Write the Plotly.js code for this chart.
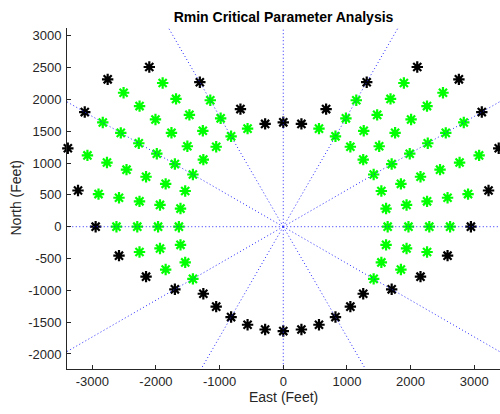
<!DOCTYPE html>
<html>
<head>
<meta charset="utf-8">
<script src="https://cdn.plot.ly/plotly-3.0.1.min.js"></script>
<style>html,body{margin:0;padding:0;background:#fff;}#chart{width:500px;height:414px;}</style>
</head>
<body>
<div id="chart"></div>
<script>
// Outer boundary points (black asterisks), East / North in feet
const blackX = [0, -285, -673, -1311, -2105, -2759, -3119, -3385, -3225, -2948, -2581, -2156, -1703, -1256, -1054, -820, -561, -285, 0,
                285, 673, 1311, 2105, 2759, 3119, 3385, 3225, 2948, 2581, 2156, 1703, 1256, 1054, 820, 561, 285];
const blackY = [1640, 1615, 1848, 2270, 2509, 2315, 1801, 1232, 569, 0, -455, -785, -984, -1054, -1256, -1420, -1541, -1615, -1640,
                1615, 1848, 2270, 2509, 2315, 1801, 1232, 569, 0, -455, -785, -984, -1054, -1256, -1420, -1541, -1615];

// Interior points (green asterisks)
const greenX = [
  -561,
  -820, -984, -1147,
  -1054, -1264, -1475, -1685, -1895,
  -1256, -1507, -1757, -2008, -2258, -2509,
  -1420, -1703, -1987, -2270, -2553, -2836,
  -1541, -1848, -2156, -2463, -2770, -3077,
  -1615, -1937, -2259, -2581, -2903,
  -1640, -1967, -2294, -2621,
  -1615, -1937, -2259,
  -1541, -1848,
  -1420,
  561,
  820, 984, 1147,
  1054, 1264, 1475, 1685, 1895,
  1256, 1507, 1757, 2008, 2258, 2509,
  1420, 1703, 1987, 2270, 2553, 2836,
  1541, 1848, 2156, 2463, 2770, 3077,
  1615, 1937, 2259, 2581, 2903,
  1640, 1967, 2294, 2621,
  1615, 1937, 2259,
  1541, 1848,
  1420
];
const greenY = [
  1541,
  1420, 1703, 1987,
  1256, 1507, 1757, 2008, 2258,
  1054, 1264, 1475, 1685, 1895, 2105,
  820, 984, 1147, 1311, 1474, 1638,
  561, 673, 785, 896, 1008, 1120,
  285, 342, 398, 455, 512,
  0, 0, 0, 0,
  -285, -342, -398,
  -561, -673,
  -820,
  1541,
  1420, 1703, 1987,
  1256, 1507, 1757, 2008, 2258,
  1054, 1264, 1475, 1685, 1895, 2105,
  820, 984, 1147, 1311, 1474, 1638,
  561, 673, 785, 896, 1008, 1120,
  285, 342, 398, 455, 512,
  0, 0, 0, 0,
  -285, -342, -398,
  -561, -673,
  -820
];

// Radial reference rays (degrees) and their length (feet)
const rayAngles = [0, 30, 60, 90, 120, 150, 180, 210, 240, 270, 300, 330];
const rayLength = 6000;

const xTicks = [-3000, -2000, -1000, 0, 1000, 2000, 3000];
const yTicks = [-2000, -1500, -1000, -500, 0, 500, 1000, 1500, 2000, 2500, 3000];

const rayX = [], rayY = [];
rayAngles.forEach(a => {
  const t = a * Math.PI / 180;
  rayX.push(0, rayLength * Math.cos(t), null);
  rayY.push(0, rayLength * Math.sin(t), null);
});

const axisColor = 'rgb(38,38,38)';
const fontFam = '"Liberation Sans", Arial, Helvetica, sans-serif';

const traces = [
  {
    x: greenX, y: greenY, type: 'scatter', mode: 'markers', cliponaxis: false,
    marker: {symbol: 'asterisk-open', size: 9.5, color: 'rgb(0,255,0)', line: {color: 'rgb(0,255,0)', width: 2.2}},
    hoverinfo: 'skip'
  },
  {
    x: blackX, y: blackY, type: 'scatter', mode: 'markers', cliponaxis: false,
    marker: {symbol: 'asterisk-open', size: 9.5, color: 'rgb(0,0,0)', line: {color: 'rgb(0,0,0)', width: 2.2}},
    hoverinfo: 'skip'
  },
  {
    x: rayX, y: rayY, type: 'scatter', mode: 'lines',
    line: {color: 'rgb(40,40,255)', width: 1, dash: '1px,2.5px'},
    hoverinfo: 'skip'
  }
];

const layout = {
  width: 500, height: 414,
  margin: {l: 67, r: 0, t: 28, b: 45, pad: 0},
  paper_bgcolor: '#ffffff', plot_bgcolor: '#ffffff',
  showlegend: false,
  font: {family: fontFam, size: 13, color: axisColor},
  title: {
    text: '<b>Rmin Critical Parameter Analysis</b>',
    font: {family: fontFam, size: 14, color: '#000000'},
    xref: 'paper', x: 0.5, xanchor: 'center',
    yref: 'container', y: 1 - 17 / 414, yanchor: 'middle'
  },
  xaxis: {
    range: [-3398, 3405], tickvals: xTicks, ticktext: xTicks.map(String),
    ticks: 'inside', ticklen: 4, tickwidth: 1, tickcolor: axisColor,
    showline: true, linecolor: axisColor, linewidth: 1, mirror: false,
    showgrid: false, zeroline: false,
    tickfont: {family: fontFam, size: 13, color: axisColor},
    fixedrange: true
  },
  yaxis: {
    range: [-2236, 3122], tickvals: yTicks, ticktext: yTicks.map(String),
    ticks: 'inside', ticklen: 4, tickwidth: 1, tickcolor: axisColor,
    showline: true, linecolor: axisColor, linewidth: 1, mirror: false,
    showgrid: false, zeroline: false,
    tickfont: {family: fontFam, size: 13, color: axisColor},
    ticklabelstandoff: 2,
    fixedrange: true
  },
  annotations: [
    {text: 'East (Feet)', xref: 'paper', yref: 'paper', x: 0.5, y: (414 - 403) / 414 - 45 / 414, yshift: 0,
     xanchor: 'center', yanchor: 'middle', showarrow: false,
     font: {family: fontFam, size: 14, color: axisColor}},
    {text: 'North (Feet)', xref: 'paper', yref: 'paper', x: -52 / 433, y: 0.5, textangle: -90,
     xanchor: 'center', yanchor: 'middle', showarrow: false,
     font: {family: fontFam, size: 14, color: axisColor}}
  ]
};

Plotly.newPlot('chart', traces, layout, {displayModeBar: false, staticPlot: true});
</script>
</body>
</html>
